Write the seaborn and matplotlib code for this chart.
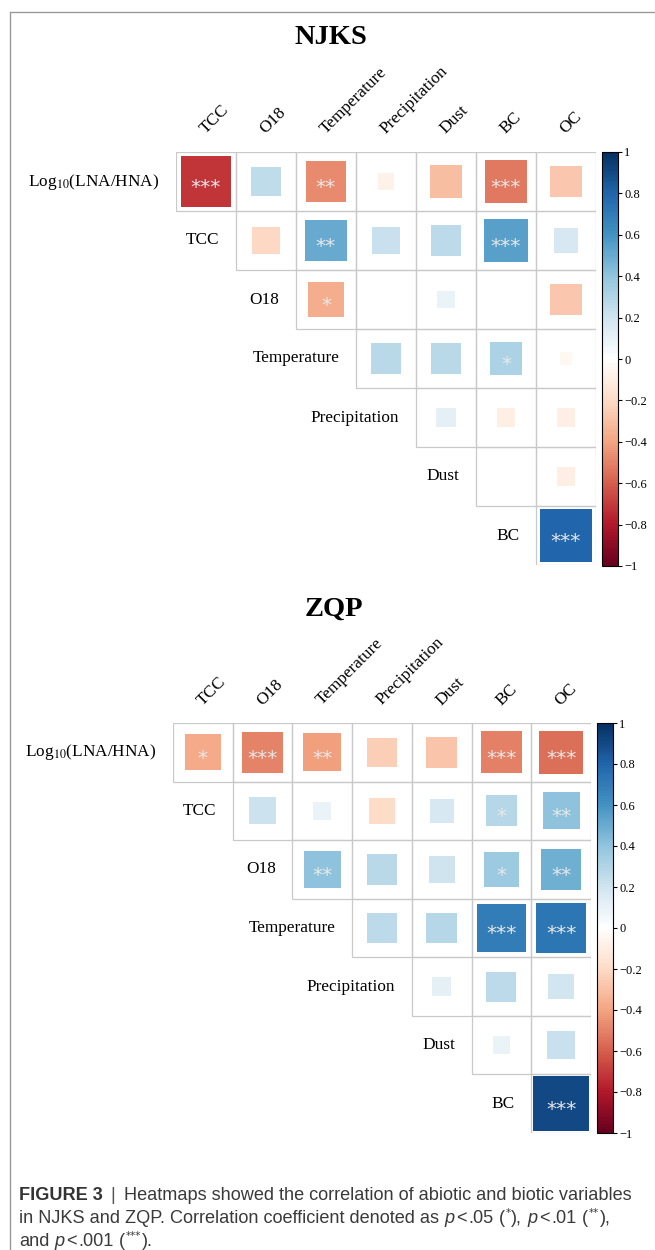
import numpy as np
import pandas as pd
import matplotlib
matplotlib.use("Agg")
import matplotlib.pyplot as plt
import seaborn as sns
from matplotlib.colors import LinearSegmentedColormap, Normalize
from matplotlib.patches import Rectangle
from matplotlib.lines import Line2D
import matplotlib.transforms as mtransforms

# ---------------- data ----------------
row_labels = ["Log$_{10}$(LNA/HNA)", "TCC", "O18", "Temperature",
              "Precipitation", "Dust", "BC"]
col_labels = ["TCC", "O18", "Temperature", "Precipitation", "Dust", "BC", "OC"]

# upper-triangle rows (row i starts at column i)
njks_r = [
    [-0.72, 0.25, -0.48, -0.08, -0.31, -0.53, -0.28],
    [-0.21, 0.50, 0.22, 0.26, 0.54, 0.17],
    [-0.37, 0.00, 0.09, 0.00, -0.28],
    [0.27, 0.27, 0.31, -0.045],
    [0.11, -0.10, -0.10],
    [0.00, -0.10],
    [0.79],
]
njks_sig = [
    ["***", "", "**", "", "", "***", ""],
    ["", "**", "", "", "***", ""],
    ["*", "", "", "", ""],
    ["", "", "*", ""],
    ["", "", ""],
    ["", ""],
    ["***"],
]
zqp_r = [
    [-0.38, -0.50, -0.42, -0.25, -0.29, -0.51, -0.55],
    [0.21, 0.09, -0.20, 0.17, 0.28, 0.40],
    [0.40, 0.27, 0.20, 0.36, 0.48],
    [0.26, 0.28, 0.69, 0.72],
    [0.11, 0.26, 0.19],
    [0.09, 0.22],
    [0.90],
]
zqp_sig = [
    ["*", "***", "**", "", "", "***", "***"],
    ["", "", "", "", "*", "**"],
    ["**", "", "", "*", "**"],
    ["", "", "***", "***"],
    ["", "", ""],
    ["", ""],
    ["***"],
]
cbar_ticks = [-1, -0.8, -0.6, -0.4, -0.2, 0, 0.2, 0.4, 0.6, 0.8, 1]
rdbu_colors = ["#67001F", "#B2182B", "#D6604D", "#F4A582", "#FDDBC7", "#FFFFFF",
               "#D1E5F0", "#92C5DE", "#4393C3", "#2166AC", "#053061"]

# ---------------- style ----------------
sns.set_theme(style="white")
plt.rcParams["font.family"] = ["Liberation Serif", "DejaVu Serif"]

cmap = LinearSegmentedColormap.from_list("corrRdBu", rdbu_colors, N=200)

W, H = 655, 1250
fig = plt.figure(figsize=(W / 100, H / 100), dpi=100)
fig.patch.set_facecolor("white")


def px_rect(x0, y0, x1, y1):
    return [x0 / W, 1 - y1 / H, (x1 - x0) / W, (y1 - y0) / H]


LABEL_FS = 12.4
STAR_FS = 14.5


def draw_panel(ax, cax, r_rows, sig_rows):
    recs = []
    for i, (rrow, srow) in enumerate(zip(r_rows, sig_rows)):
        for k, (r, s) in enumerate(zip(rrow, srow)):
            recs.append(dict(row=i, col=i + k, r=r, absr=abs(r), sig=s))
    df = pd.DataFrame(recs)

    pos = ax.get_position()
    cell_in = min(pos.width * W / 100 / 7, pos.height * H / 100 / 7)
    smax = (cell_in * 72) ** 2

    sns.scatterplot(data=df, x="col", y="row", hue="r", hue_norm=(-1, 1),
                    palette=cmap, size="absr", sizes=(0, smax), size_norm=(0, 1),
                    marker="s", linewidth=0, legend=False, ax=ax, zorder=2)
    ax.set_xlim(-0.5, 6.5)
    ax.set_ylim(6.5, -0.5)
    ax.axis("off")

    for rec in df.itertuples():
        ax.add_patch(Rectangle((rec.col - 0.5, rec.row - 0.5), 1, 1, fill=False,
                               ec="#c9c9c9", lw=0.9, zorder=1))
    star_tr = mtransforms.offset_copy(ax.transData, fig=fig, x=0,
                                      y=-0.57 * STAR_FS, units="points")
    for rec in df.itertuples():
        if rec.sig:
            ax.text(rec.col, rec.row, rec.sig, transform=star_tr, ha="center",
                    va="baseline", fontsize=STAR_FS, family="DejaVu Sans",
                    color="#e8e8e8", zorder=3)

    for i, lab in enumerate(row_labels):
        ax.text(i - 0.5 - 0.28, i, lab, ha="right", va="center",
                fontsize=LABEL_FS, color="black", math_fontfamily="stix")
    for j, lab in enumerate(col_labels):
        ax.text(j + 0.04, -0.5 - 0.25, lab, rotation=45, rotation_mode="anchor",
                ha="left", va="bottom", fontsize=LABEL_FS, color="black")

    sm = plt.cm.ScalarMappable(norm=Normalize(-1, 1), cmap=cmap)
    cb = fig.colorbar(sm, cax=cax, ticks=cbar_ticks)
    labs = []
    for v in cbar_ticks:
        t = f"{v:.1f}".rstrip("0").rstrip(".")
        labs.append(t.replace("-", "\u2212"))
    cb.ax.set_yticklabels(labs)
    cb.ax.tick_params(length=3, width=0.8, pad=1.5, labelsize=9, colors="black",
                      direction="out")
    cb.outline.set_linewidth(0.8)
    cb.outline.set_edgecolor("black")


ax1 = fig.add_axes(px_rect(176, 152, 596, 565))
cax1 = fig.add_axes(px_rect(602, 152, 618, 566))
draw_panel(ax1, cax1, njks_r, njks_sig)

ax2 = fig.add_axes(px_rect(173, 723, 591, 1133))
cax2 = fig.add_axes(px_rect(597, 723, 613, 1133))
draw_panel(ax2, cax2, zqp_r, zqp_sig)

# titles
fig.text(331 / W, 1 - 38 / H, "NJKS", ha="center", va="center", fontsize=20.5,
         weight="bold", color="black")
fig.text(334 / W, 1 - 609 / H, "ZQP", ha="center", va="center", fontsize=20.5,
         weight="bold", color="black")

# frame lines
fig.add_artist(Line2D([9.5 / W, 9.5 / W], [0, 1 - 12.3 / H], transform=fig.transFigure,
                      color="#9a9a9a", lw=1.0))
fig.add_artist(Line2D([9.5 / W, 1], [1 - 12.3 / H, 1 - 12.3 / H], transform=fig.transFigure,
                      color="#9a9a9a", lw=1.0))

# caption, placed as consecutive pieces
CAP_FS = 13.1
CAP_COL = "#3a3a3a"
renderer = fig.canvas.get_renderer()
SP = 5.0  # space width in px


def place(segs, y_px, x_px=19):
    x = x_px
    for txt, style, gap in segs:
        kw = dict(ha="left", va="baseline", fontsize=CAP_FS, family="Liberation Sans",
                  color=CAP_COL)
        dy = 0
        if style == "b":
            kw.update(weight="bold", color="#333333")
        elif style == "i":
            kw.update(style="italic")
        elif style == "bar":
            kw.update(color="#555555")
        elif style == "sup":
            kw.update(fontsize=7.5, family="DejaVu Sans")
            dy = -7
        t = fig.text(x / W, 1 - (y_px + dy) / H, txt, **kw)
        x = t.get_window_extent(renderer).x1 + gap


place([("FIGURE 3", "b", 8), ("|", "bar", 9),
       ("Heatmaps showed the correlation of abiotic and biotic variables", "n", 0)], 1200)
place([("in NJKS and ZQP. Correlation coefficient denoted as", "n", SP),
       ("p", "i", 2), ("<", "n", 1.5), (".05", "n", SP), ("(", "n", 0.8),
       ("*", "sup", 0.8), ("),", "n", SP),
       ("p", "i", 2), ("<", "n", 1.5), (".01", "n", SP), ("(", "n", 0.8),
       ("**", "sup", 0.8), ("),", "n", 0)], 1223)
place([("and", "n", SP), ("p", "i", 2), ("<", "n", 1.5), (".001", "n", SP),
       ("(", "n", 0.8), ("***", "sup", 0.8), (").", "n", 0)], 1246)

fig.savefig("out.png", dpi=100, facecolor="white")
